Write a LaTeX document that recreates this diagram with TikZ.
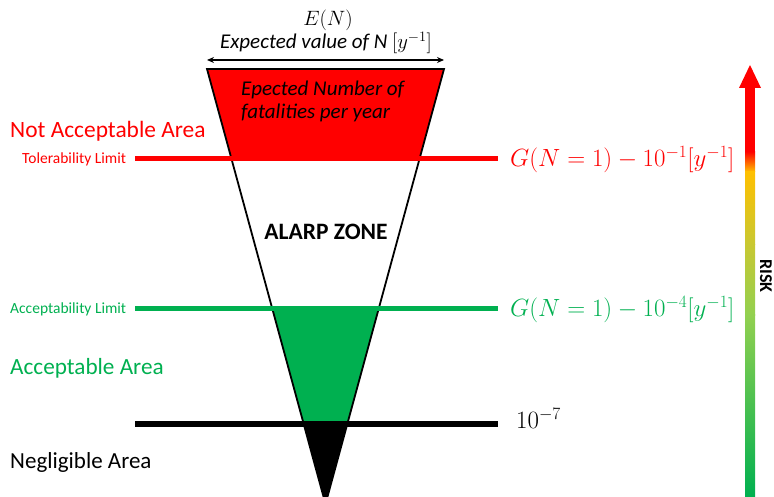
\documentclass[tikz,border=0pt]{standalone}
\usepackage{fontspec}
\setmainfont{Carlito}
\usetikzlibrary{arrows.meta}
\definecolor{rred}{HTML}{FF0000}
\definecolor{ggreen}{HTML}{00B050}
\definecolor{lgreen}{HTML}{92D050}
\definecolor{gold}{HTML}{FFC000}
\definecolor{olive}{HTML}{C8C832}
\tikzset{
  lbl/.style={anchor=west, inner sep=0pt},
  limitline/.style={line width=5pt},
  edgeline/.style={line width=1.8pt, line join=miter},
}
\begin{document}
\begin{tikzpicture}[x=1pt,y=-1pt]
\useasboundingbox (0,0) rectangle (774,497);
% triangle corners
\coordinate (tl) at (207,69);
\coordinate (tr) at (444,69);
\coordinate (ap) at (325.5,504);
% fills
\begin{scope}
\clip (tl) -- (tr) -- (ap) -- cycle;
\fill[rred] (150,60) rectangle (500,159);
\fill[ggreen] (150,308) rectangle (500,424);
\fill[black] (150,424) rectangle (500,510);
\end{scope}
\draw[edgeline] (tl) -- (tr) -- (ap) -- cycle;
% limit lines
\coordinate (r1) at (135,159); \coordinate (r2) at (498,159);
\coordinate (g1) at (135,308); \coordinate (g2) at (498,308);
\coordinate (b1) at (135,424); \coordinate (b2) at (498,424);
\draw[limitline, rred] (r1) -- (r2);
\draw[limitline, ggreen] (g1) -- (g2);
\draw[line width=6pt, black] (b1) -- (b2);
% top dimension arrow
\coordinate (d1) at (207,60); \coordinate (d2) at (444,60);
\draw[line width=1.3pt, {Stealth[length=7pt,width=6pt]}-{Stealth[length=7pt,width=6pt]}] (d1) -- (d2);
\node[font=\fontsize{22}{24}\selectfont] (en) at (328,20) {$E(N)$};
\node[font=\fontsize{21}{23}\selectfont\itshape] (ev) at (326,43) {Expected value of N $[y^{-1}]$};
\node[lbl, align=left, font=\fontsize{21}{23}\selectfont\itshape] (enf) at (241,101) {Epected Number of\\ fatalities per year};
\node[font=\fontsize{23.5}{25}\selectfont\bfseries] (alarp) at (326,232) {ALARP ZONE};
% left labels
\node[lbl, text=rred, font=\fontsize{23.4}{25}\selectfont] (nacc) at (10,131) {Not Acceptable Area};
\node[lbl, text=rred, font=\fontsize{15.5}{17}\selectfont] (tol) at (22,159) {Tolerability Limit};
\node[lbl, text=ggreen, font=\fontsize{15.5}{17}\selectfont] (accl) at (10,309) {Acceptability Limit};
\node[lbl, text=ggreen, font=\fontsize{23.2}{25}\selectfont] (acca) at (10,368) {Acceptable Area};
\node[lbl, font=\fontsize{23}{25}\selectfont] (negl) at (10,462) {Negligible Area};
% right labels
\node[lbl, text=rred, font=\fontsize{24}{26}\selectfont] (gr) at (510,160) {$G(N=1)-10^{-1}[y^{-1}]$};
\node[lbl, text=ggreen, font=\fontsize{24}{26}\selectfont] (gg) at (510,310) {$G(N=1)-10^{-4}[y^{-1}]$};
\node[lbl, font=\fontsize{24}{26}\selectfont] (tenm7) at (516,418) {$10^{-7}$};
% risk arrow
\fill[rred] (745,86) rectangle (755,152);
\shade[top color=rred, bottom color=gold] (745,151.5) rectangle (755,172);
\shade[top color=gold, bottom color=olive] (745,171.5) rectangle (755,245);
\shade[top color=olive, bottom color=lgreen] (745,244.5) rectangle (755,315);
\shade[top color=lgreen, bottom color=ggreen] (745,314.5) rectangle (755,497);
\fill[rred] (739,88) -- (750,65) -- (761,88) -- cycle;
\node[rotate=-90, font=\fontsize{18}{20}\selectfont\bfseries] (risk) at (766,276) {RISK};
\end{tikzpicture}
\end{document}
